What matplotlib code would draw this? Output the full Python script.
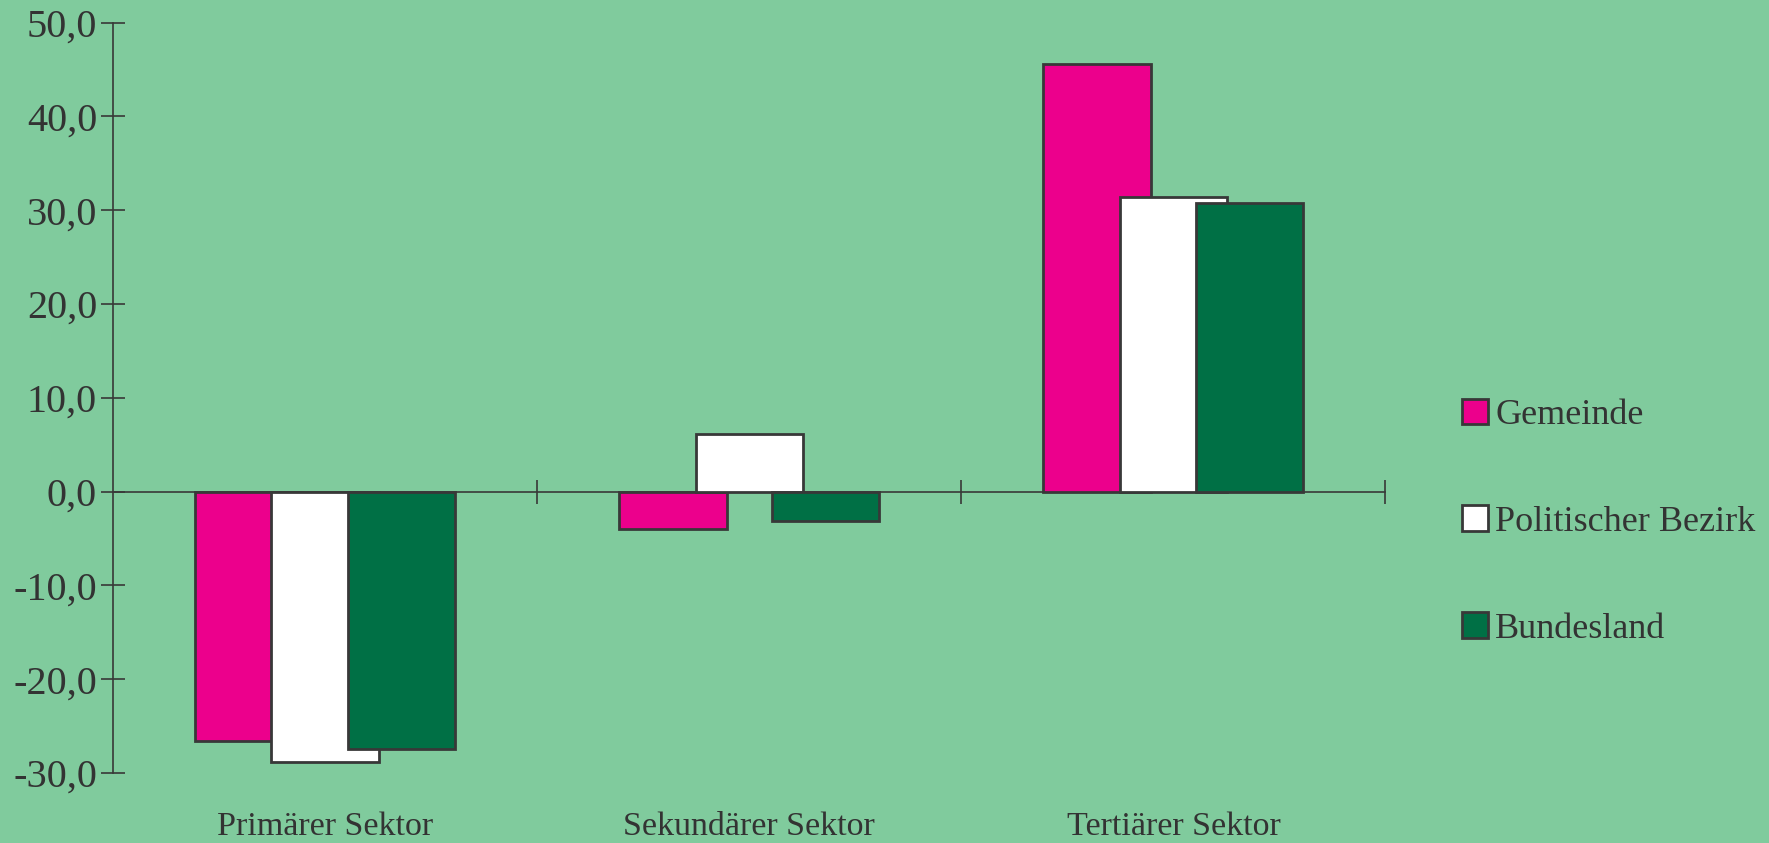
import matplotlib
matplotlib.use("Agg")
import matplotlib.pyplot as plt
import matplotlib.transforms as mtransforms
import numpy as np

categories = ["Primärer Sektor", "Sekundärer Sektor", "Tertiärer Sektor"]
series_names = ["Gemeinde", "Politischer Bezirk", "Bundesland"]
gemeinde = [-26.6, -4.0, 45.6]
bezirk = [-28.8, 6.1, 31.4]
bundesland = [-27.4, -3.1, 30.8]
yticks = [-30, -20, -10, 0, 10, 20, 30, 40, 50]
ytick_labels = ["-30,0", "-20,0", "-10,0", "0,0", "10,0", "20,0", "30,0", "40,0", "50,0"]

BG = "#80CB9D"
TXT = "#333333"
EDGE = "#383838"
colors = ["#EC008C", "#FFFFFF", "#007045"]

plt.rcParams['font.family'] = ['Liberation Serif', 'DejaVu Serif']

fig = plt.figure(figsize=(17.69, 8.43), dpi=100)
fig.patch.set_facecolor(BG)
ax = fig.add_axes([0.0639, 0.0830, 0.7193, 0.8902])
ax.set_facecolor(BG)

x = np.arange(len(categories))
width = 0.253
offset = 0.18
for i, (vals, name, col) in enumerate(zip([gemeinde, bezirk, bundesland], series_names, colors)):
    ax.bar(x + (i - 1) * offset, vals, width, color=col, edgecolor=EDGE,
           linewidth=2.0, label=name, zorder=3 + i)

ax.set_xlim(-0.5, 2.5)
ax.set_ylim(-30, 50)

for s in ["top", "right"]:
    ax.spines[s].set_visible(False)
ax.spines["left"].set_color(EDGE)
ax.spines["left"].set_linewidth(1.2)
ax.spines["bottom"].set_position(("data", 0))
ax.spines["bottom"].set_color(EDGE)
ax.spines["bottom"].set_linewidth(1.2)
ax.spines["bottom"].set_zorder(2)

ax.set_yticks(yticks)
ax.set_yticklabels(ytick_labels)
ax.tick_params(axis="y", direction="inout", length=17, width=1.2, color=EDGE,
               labelsize=29, labelcolor=TXT, pad=3)
ax.set_xticks([0.5, 1.5, 2.5])
ax.set_xticklabels([])
ax.tick_params(axis="x", direction="inout", length=17, width=1.2, color=EDGE)

trans = mtransforms.blended_transform_factory(ax.transData, fig.transFigure)
for xi, cat in zip(x, categories):
    ax.text(xi, 0.019, cat, transform=trans,
            ha="center", va="center", fontsize=24.5, color=TXT)

leg = fig.legend(loc="center left", bbox_to_anchor=(0.8265, 0.3805), frameon=False,
                 fontsize=26, labelspacing=2.03, handlelength=0.72, handleheight=0.72,
                 handletextpad=0.2, borderpad=0, borderaxespad=0)
for t in leg.get_texts():
    t.set_color(TXT)

fig.savefig("out.png", dpi=100, facecolor=BG)
